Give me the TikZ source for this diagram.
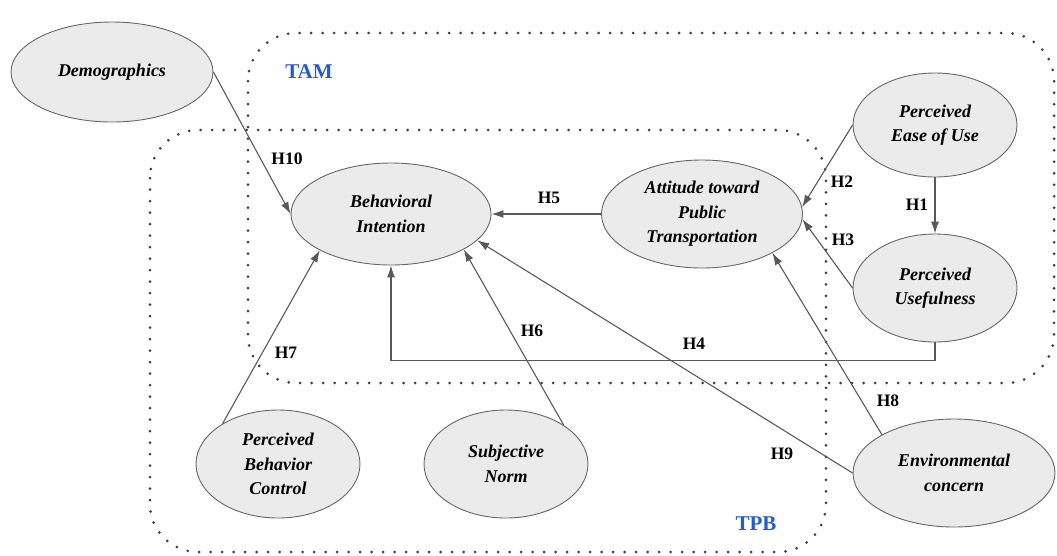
\documentclass[tikz,border=0pt]{standalone}
\usepackage{fontspec}
\setmainfont{Liberation Serif}
\usepackage{tikz}
\usetikzlibrary{positioning}
\usetikzlibrary{shapes.geometric}
\usetikzlibrary{arrows.meta}
\definecolor{azulmod}{RGB}{38,92,200}

\begin{document}
\begin{tikzpicture}[x=1pt, y=-1pt,
    latente/.style={draw=black!60, fill=black!8, ellipse, line width=0.9pt, inner sep=0pt,
      minimum width=164pt, minimum height=108pt, align=center,
      font=\fontsize{18}{24.5}\selectfont\bfseries\itshape},
    hip/.style={font=\fontsize{17.5}{20}\selectfont\bfseries},
    modelo/.style={draw=black!75, line width=3pt, line cap=round,
      dash pattern=on 0pt off 11.5pt, rounded corners=48pt},
    etiqueta/.style={text=azulmod, font=\fontsize{21}{24}\selectfont\bfseries},
    rel/.style={->, line width=1.1pt, draw=black!65},
    >={Latex[length=12pt, width=8pt]}]
    \useasboundingbox (0,0) rectangle (1057,555);

    % Modelos
    \draw[modelo] (248,33) rectangle (1054,383);
    \draw[modelo] (150,130) rectangle (826,552);
    \node[etiqueta] (tam) at (309,72) {TAM};
    \node[etiqueta] (tpb) at (756,524) {TPB};

    % Constructos
    \node[latente, minimum width=202pt, minimum height=100pt] (dem) at (112,72) {Demographics};
    \node[latente, minimum width=200pt, minimum height=102pt] (bi) at (391,214) {Behavioral\\Intention};
    \node[latente, minimum width=201pt] (att) at (702,214) {Attitude toward\\Public\\Transportation};
    \node[latente, minimum height=104pt] (peou) at (935,125) {Perceived\\Ease of Use};
    \node[latente] (pu) at (935,288) {Perceived\\Usefulness};
    \node[latente] (pbc) at (278,464) {Perceived\\Behavior\\Control};
    \node[latente] (sn) at (506,464) {Subjective\\Norm};
    \node[latente, minimum width=202pt] (env) at (954,473) {Environmental\\concern};

    % Hipotesis
    \draw[rel] (peou.south) -- (pu.north);
    \draw[rel] (peou.west) -- (att.4);
    \draw[rel] (pu.west) -- (att.-3);
    \draw[rel] (pu.south) -- ++(0,18) -| (bi.south);
    \draw[rel] (att.west) -- (bi.east);
    \draw[rel] (sn.34) -- (bi.-26);
    \draw[rel] (pbc.144) -- (bi.207);
    \draw[rel] (env.152) -- (att.-29);
    \draw[rel] (env.west) -- (bi.-17);
    \draw[rel] (dem.east) -- (bi.west);

    \node[hip] (h1) at (917,205) {H1};
    \node[hip] (h2) at (842,182) {H2};
    \node[hip] (h3) at (843,240) {H3};
    \node[hip] (h4) at (694,344) {H4};
    \node[hip] (h5) at (549,198) {H5};
    \node[hip] (h6) at (532,331) {H6};
    \node[hip] (h7) at (286,353) {H7};
    \node[hip] (h8) at (888,401) {H8};
    \node[hip] (h9) at (782,454) {H9};
    \node[hip] (h10) at (287,159) {H10};
  \end{tikzpicture}
\end{document}
